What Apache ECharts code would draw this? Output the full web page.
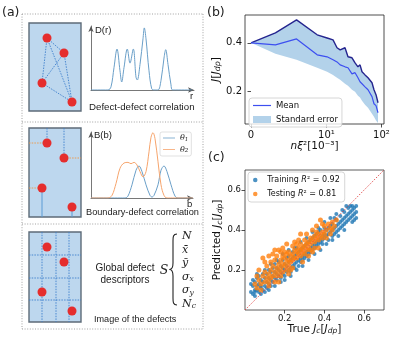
<!DOCTYPE html>
<html>
<head>
<meta charset="utf-8">
<script src="https://cdn.jsdelivr.net/npm/echarts@6/dist/echarts.min.js"></script>
<style>
    html, body {margin: 0; padding: 0; background: #fff;}
    #main {width: 396px; height: 348px;}
</style>
</head>
<body>
<div id="main"></div>
<script>
// (a) sketch curves
var DR_R = [0, 1.7, 2.0, 2.3, 2.6, 2.9, 3.07, 3.3, 3.63, 3.9, 4.23, 4.5, 4.63, 4.9, 5.2, 5.33, 5.5, 5.8, 6.07, 6.3, 6.7, 7.0, 7.3, 7.47, 7.7, 8.0, 8.17, 10.1];
var DR_D = [0, 0, 0.05, 0.35, 0.64, 0.3, 0.125, 0.35, 0.64, 0.42, 0.64, 0.2, 0.156, 0.4, 0.8, 0.97, 0.8, 0.3, 0.02, 0, 0, 0.15, 0.5, 0.63, 0.4, 0.08, 0, 0];
var THETA1_B = [0, 3.4, 3.7, 4.1, 4.5, 4.8, 5.1, 5.5, 5.9, 6.1, 6.3, 6.7, 7.0, 7.3, 7.6, 8.0, 8.4, 8.7, 10.2];
var THETA1_V = [0, 0, 0.03, 0.2, 0.42, 0.485, 0.4, 0.2, 0.04, 0.015, 0.04, 0.2, 0.42, 0.485, 0.4, 0.2, 0.03, 0, 0];
var THETA2_B = [0, 1.7, 2.1, 2.5, 2.9, 3.3, 3.7, 4.0, 4.3, 4.6, 4.9, 5.2, 5.5, 5.8, 6.0, 6.2, 6.4, 6.7, 7.0, 7.3, 7.6, 10.2];
var THETA2_V = [0, 0, 0.04, 0.22, 0.45, 0.53, 0.54, 0.52, 0.54, 0.5, 0.4, 0.32, 0.4, 0.7, 0.92, 0.99, 0.9, 0.55, 0.2, 0.04, 0, 0];

// (b) J vs n xi^2
var B_X = [0, 2.2, 4.1, 6.8, 10.3, 13.2, 15.6, 17.8, 21.8, 24.7, 29.2, 33.2, 37.5, 40.9, 44.4, 50.4, 57.1, 67.5, 73.3, 79.8, 86.8];
var B_UPPER = [0.400, 0.441, 0.494, 0.433, 0.420, 0.412, 0.380, 0.371, 0.380, 0.343, 0.339, 0.318, 0.302, 0.310, 0.282, 0.269, 0.257, 0.237, 0.208, 0.188, 0.155];
var B_MEAN = [0.400, 0.392, 0.416, 0.351, 0.343, 0.331, 0.322, 0.310, 0.302, 0.298, 0.273, 0.278, 0.257, 0.241, 0.249, 0.220, 0.208, 0.180, 0.151, 0.143, 0.114];
var B_LOWER = [0.400, 0.355, 0.331, 0.298, 0.282, 0.269, 0.257, 0.249, 0.233, 0.224, 0.208, 0.200, 0.184, 0.176, 0.163, 0.147, 0.135, 0.110, 0.098, 0.082, 0.072];
var B_XTICKS = [0, 10, 100];
var B_XTICK_LABELS = ['0', '10¹', '10²'];
var B_YTICKS = [0.2, 0.4];

// (c) predicted vs true
var C_TICKS = [0.2, 0.4, 0.6];
var C_DIAG = [0, 0.7];
var C_TRAIN = [
    [0.03,0.09],[0.03,0.13],[0.04,0.08],[0.04,0.12],[0.04,0.15],[0.05,0.10],[0.05,0.14],[0.05,0.09],[0.06,0.12],[0.06,0.16],
    [0.06,0.10],[0.07,0.13],[0.07,0.09],[0.07,0.17],[0.08,0.11],[0.08,0.15],[0.08,0.12],[0.09,0.10],[0.09,0.14],[0.09,0.18],
    [0.10,0.12],[0.10,0.16],[0.10,0.09],[0.11,0.14],[0.11,0.18],[0.11,0.11],[0.12,0.16],[0.12,0.20],[0.12,0.13],[0.13,0.15],
    [0.13,0.19],[0.13,0.12],[0.14,0.17],[0.14,0.21],[0.14,0.14],[0.15,0.16],[0.15,0.19],[0.15,0.23],[0.16,0.15],[0.16,0.18],
    [0.16,0.21],[0.17,0.17],[0.17,0.20],[0.17,0.24],[0.18,0.16],[0.18,0.19],[0.18,0.22],[0.19,0.18],[0.19,0.21],[0.19,0.25],
    [0.20,0.17],[0.20,0.20],[0.20,0.23],[0.21,0.19],[0.21,0.22],[0.21,0.26],[0.22,0.20],[0.22,0.24],[0.22,0.27],[0.23,0.21],
    [0.23,0.25],[0.23,0.19],[0.24,0.22],[0.24,0.26],[0.24,0.29],[0.25,0.23],[0.25,0.27],[0.25,0.21],[0.26,0.24],[0.26,0.28],
    [0.26,0.31],[0.27,0.25],[0.27,0.22],[0.27,0.29],[0.28,0.26],[0.28,0.30],[0.28,0.24],[0.29,0.27],[0.29,0.31],[0.29,0.25],
    [0.30,0.28],[0.30,0.32],[0.30,0.26],[0.31,0.29],[0.31,0.33],[0.31,0.27],[0.32,0.30],[0.32,0.34],[0.32,0.28],[0.33,0.31],
    [0.33,0.35],[0.33,0.29],[0.34,0.32],[0.34,0.36],[0.34,0.30],[0.35,0.33],[0.35,0.37],[0.35,0.31],[0.36,0.34],[0.36,0.38],
    [0.36,0.32],[0.37,0.35],[0.37,0.33],[0.37,0.39],[0.38,0.36],[0.38,0.34],[0.38,0.40],[0.39,0.37],[0.39,0.35],[0.39,0.33],
    [0.40,0.38],[0.40,0.36],[0.40,0.41],[0.41,0.37],[0.41,0.40],[0.42,0.38],[0.42,0.41],[0.42,0.35],[0.43,0.39],[0.43,0.42],
    [0.44,0.40],[0.44,0.37],[0.44,0.43],[0.45,0.41],[0.45,0.38],[0.46,0.42],[0.46,0.39],[0.46,0.45],[0.47,0.43],[0.47,0.40],
    [0.48,0.44],[0.48,0.41],[0.48,0.47],[0.49,0.45],[0.49,0.42],[0.50,0.46],[0.50,0.43],[0.50,0.49],[0.51,0.47],[0.51,0.44],
    [0.52,0.48],[0.52,0.45],[0.52,0.51],[0.53,0.49],[0.53,0.46],[0.54,0.50],[0.54,0.47],[0.54,0.52],[0.55,0.48],[0.55,0.45],
    [0.55,0.51],[0.56,0.49],[0.56,0.52],
    [0.05,0.07],[0.06,0.18],[0.08,0.08],[0.10,0.20],[0.12,0.10],[0.13,0.23],[0.15,0.12],[0.16,0.25],[0.18,0.14],[0.19,0.28],
    [0.20,0.15],[0.22,0.30],[0.23,0.17],[0.25,0.31],[0.26,0.20],[0.28,0.34],[0.29,0.22],[0.31,0.36],[0.32,0.25],[0.34,0.39],
    [0.35,0.28],[0.37,0.41],[0.38,0.30],[0.40,0.44],[0.41,0.33],[0.43,0.46],[0.44,0.35],[0.46,0.48],[0.47,0.37],[0.49,0.50],
    [0.50,0.40],[0.53,0.52],[0.54,0.44],[0.56,0.46],[0.51,0.52],[0.45,0.46]
];
var C_TEST = [
    [0.05,0.13],[0.06,0.11],[0.07,0.15],[0.08,0.13],[0.09,0.17],[0.09,0.26],[0.10,0.14],[0.10,0.19],[0.11,0.16],[0.11,0.22],
    [0.12,0.18],[0.12,0.14],[0.13,0.20],[0.13,0.24],[0.14,0.17],[0.14,0.22],[0.15,0.19],[0.15,0.25],[0.15,0.14],[0.16,0.21],
    [0.16,0.17],[0.16,0.27],[0.17,0.19],[0.17,0.23],[0.17,0.30],[0.18,0.21],[0.18,0.25],[0.18,0.17],[0.19,0.23],[0.19,0.31],
    [0.19,0.19],[0.20,0.22],[0.20,0.26],[0.20,0.29],[0.21,0.24],[0.21,0.20],[0.22,0.25],[0.22,0.29],[0.22,0.22],[0.23,0.27],
    [0.23,0.24],[0.24,0.28],[0.24,0.25],[0.24,0.32],[0.25,0.26],[0.25,0.30],[0.26,0.29],[0.26,0.26],[0.27,0.31],[0.27,0.28],
    [0.28,0.30],[0.28,0.33],[0.28,0.27],[0.29,0.31],[0.29,0.29],[0.30,0.32],[0.30,0.35],[0.31,0.30],[0.31,0.33],[0.32,0.34],
    [0.32,0.31],[0.33,0.36],[0.33,0.33],[0.34,0.35],[0.34,0.40],[0.35,0.34],[0.35,0.37],[0.36,0.36],[0.36,0.39],[0.37,0.38],
    [0.37,0.35],[0.38,0.45],[0.38,0.37],[0.39,0.39],[0.40,0.38],[0.40,0.42],[0.41,0.40],[0.42,0.43],[0.43,0.41],[0.44,0.44],
    [0.45,0.42],[0.46,0.45],[0.06,0.17],[0.08,0.10],[0.12,0.12],[0.14,0.28],[0.21,0.28],[0.23,0.20],[0.26,0.33],[0.30,0.28],
    [0.33,0.30],[0.35,0.31],[0.39,0.36],[0.44,0.40],
    [0.07,0.20],[0.10,0.24],[0.13,0.16],[0.15,0.30],[0.17,0.14],[0.19,0.27],[0.21,0.33],[0.22,0.18],[0.24,0.21],[0.25,0.34],
    [0.27,0.35],[0.29,0.24],[0.31,0.38],[0.32,0.27],[0.34,0.29],[0.36,0.42],[0.37,0.31],[0.39,0.43],[0.41,0.36],[0.43,0.38],
    [0.12,0.27],[0.18,0.29],[0.28,0.38]
];

var LINTHRESH = 5.5, LINSCALE = 1 / (1 - 1 / 10);
function symlog(x) {
    return x <= LINTHRESH ? x / LINTHRESH * LINSCALE : LINSCALE + Math.log10(x / LINTHRESH);
}
function zip(xs, ys) {
    return xs.map(function (x, i) { return [x, ys[i]]; });
}

var TICK_FONT = 'DejaVu Sans';
var SKETCH_FONT = 'Liberation Sans';
var MATH_FONT = 'DejaVu Serif';
var LINE_ICON = 'path://M0,0H30V2H0Z';

// ---- sketch helpers for panel (a) ----
var RECT_X = 29, RECT_W = 52;
var DEFECTS = [[47, 15], [64, 30], [42, 60], [72, 79]];
var BLUE_DOT = '#3d7fcc', ORANGE_DOT = '#f0953f';

function txt(x, y, s, size, opts) {
    opts = opts || {};
    return {
        type: 'text', x: x, y: y, z: 20,
        style: {
            text: s, fill: opts.fill || '#222',
            font: (opts.italic ? 'italic ' : '') + size + 'px "' + (opts.family || SKETCH_FONT) + '"',
            align: opts.align || 'left', verticalAlign: opts.va || 'middle', rich: opts.rich
        }
    };
}
function ln(x1, y1, x2, y2, color, dash, w) {
    return {
        type: 'line', z: 11, shape: {x1: x1, y1: y1, x2: x2, y2: y2},
        style: {stroke: color, lineWidth: w || 0.9, lineDash: dash || null}
    };
}
function curve(x1, y1, c1x, c1y, c2x, c2y, x2, y2) {
    return {
        type: 'bezierCurve', z: 20,
        shape: {x1: x1, y1: y1, cpx1: c1x, cpy1: c1y, cpx2: c2x, cpy2: c2y, x2: x2, y2: y2},
        style: {fill: null, stroke: '#222', lineWidth: 1.1}
    };
}
function box(top, h) {
    return {
        type: 'rect', z: 10, shape: {x: RECT_X, y: top, width: RECT_W, height: h},
        style: {fill: '#bdd7ee', stroke: '#5d6b78', lineWidth: 1.4}
    };
}
function dots(top) {
    return DEFECTS.map(function (d) {
        return {type: 'circle', z: 12, shape: {cx: d[0], cy: top + d[1], r: 4.5}, style: {fill: '#e52d2d'}};
    });
}

var graphics = [];
// dotted frame
var FD = [1, 1.6], FC = '#8a8a8a';
graphics.push(ln(22, 14, 203, 14, FC, FD, 0.8), ln(22, 329, 203, 329, FC, FD, 0.8),
    ln(22, 14, 22, 329, FC, FD, 0.8), ln(203, 14, 203, 329, FC, FD, 0.8),
    ln(22, 122, 203, 122, FC, FD, 0.8), ln(22, 224, 203, 224, FC, FD, 0.8));

// sub-panel 1: defect-defect
var t1 = 23;
graphics.push(box(t1, 88));
for (var i = 0; i < DEFECTS.length; i++) {
    for (var j = i + 1; j < DEFECTS.length; j++) {
        graphics.push(ln(DEFECTS[i][0], t1 + DEFECTS[i][1], DEFECTS[j][0], t1 + DEFECTS[j][1], BLUE_DOT, [1.5, 1.2]));
    }
}
graphics = graphics.concat(dots(t1));
graphics.push(txt(95, 30, 'D(r)', 9.5), txt(190, 96, 'r', 9.5), txt(89, 107, 'Defect-defect correlation', 9.7));

// sub-panel 2: boundary-defect
var t2 = 128, b2 = 217;
graphics.push(box(t2, 89));
graphics.push(ln(47, t2, 47, t2 + DEFECTS[0][1], BLUE_DOT, [1.5, 1.2]),
    ln(64, t2, 64, t2 + DEFECTS[1][1], BLUE_DOT, [1.5, 1.2]),
    ln(42, t2 + DEFECTS[2][1], 42, b2, '#5b9bd5', null, 1),
    ln(72, t2 + DEFECTS[3][1], 72, b2, '#5b9bd5', null, 1),
    ln(RECT_X, t2 + DEFECTS[0][1], 47, t2 + DEFECTS[0][1], ORANGE_DOT, [1.5, 1.2]),
    ln(64, t2 + DEFECTS[1][1], RECT_X + RECT_W, t2 + DEFECTS[1][1], ORANGE_DOT, [1.5, 1.2]),
    ln(RECT_X, t2 + DEFECTS[2][1], 42, t2 + DEFECTS[2][1], ORANGE_DOT, [1.5, 1.2]));
graphics = graphics.concat(dots(t2));
graphics.push(txt(94, 135.5, 'B(b)', 9.5), txt(187, 204, 'b', 9.5), txt(86, 212, 'Boundary-defect correlation', 9.2));

// sub-panel 3: image of the defects
var t3 = 232;
graphics.push(box(t3, 90));
[42, 56, 69].forEach(function (x) { graphics.push(ln(x, t3, x, t3 + 90, BLUE_DOT, [1.5, 1.2])); });
[23, 46, 68].forEach(function (y) { graphics.push(ln(RECT_X, t3 + y, RECT_X + RECT_W, t3 + y, BLUE_DOT, [1.5, 1.2])); });
graphics = graphics.concat(dots(t3));
graphics.push(txt(125, 268, 'Global defect', 10, {align: 'center'}),
    txt(125, 280.5, 'descriptors', 10, {align: 'center'}),
    txt(94, 319, 'Image of the defects', 9.1),
    txt(164, 271, 'S', 12.5, {family: MATH_FONT, italic: true, align: 'center'}));
// curly brace
graphics.push(curve(177, 234, 173, 234, 173, 237, 173, 241), ln(173, 241, 173, 263, '#222', null, 1.1),
    curve(173, 263, 173, 267, 172, 269.5, 169.5, 269.5), curve(169.5, 269.5, 172, 269.5, 173, 272, 173, 276),
    ln(173, 276, 173, 298, '#222', null, 1.1), curve(173, 298, 173, 302, 173, 305, 177, 305));
var mathRich = {
    s: {fontSize: 7.5, fontFamily: MATH_FONT, fontStyle: 'italic', verticalAlign: 'bottom', padding: [5, 0, 0, 0]}
};
var DESCRIPTORS = ['N', 'x\u0304', 'y\u0304', 'σ{s|x}', 'σ{s|y}', 'N{s|c}'];
DESCRIPTORS.forEach(function (d, k) {
    graphics.push(txt(182, 236.5 + k * 13.5, d, 11, {family: MATH_FONT, italic: true, rich: mathRich}));
});

// panel labels
graphics.push(txt(2, 13, '(a)', 12.5, {family: TICK_FONT}),
    txt(207, 12.5, '(b)', 12.5, {family: TICK_FONT}),
    txt(208, 158, '(c)', 12.5, {family: TICK_FONT}));

// ---- axes ----
function sketchAxis(idx, max) {
    return {
        type: 'value', gridIndex: idx, min: 0, max: max,
        axisLine: {show: true, symbol: ['none', 'arrow'], symbolSize: [4, 6], lineStyle: {color: '#555', width: 0.8}},
        axisTick: {show: false}, axisLabel: {show: false}, splitLine: {show: false}
    };
}
var tickStyle = {show: true, inside: false, length: 3.5, lineStyle: {color: '#222', width: 0.8}};
function subRich(size) {
    return {
        i: {fontStyle: 'italic', fontSize: size},
        s: {fontSize: size * 0.72, fontStyle: 'italic', verticalAlign: 'bottom', padding: [size * 0.35, 0, 0, 0]}
    };
}
var bandData = B_X.map(function (x, k) { return [symlog(x), B_LOWER[k], B_UPPER[k]]; });

var option = {
    backgroundColor: '#fff',
    animation: false,
    graphic: graphics,
    grid: [
        {left: 91, top: 26, width: 103, height: 64},
        {left: 91, top: 132, width: 102, height: 66},
        {left: 245, top: 15, width: 139, height: 109, show: true, borderColor: '#222', borderWidth: 0.8},
        {left: 245, top: 170, width: 139, height: 140, show: true, borderColor: '#333', borderWidth: 0.8}
    ],
    xAxis: [
        sketchAxis(0, 10.3),
        sketchAxis(1, 10.2),
        {
            type: 'value', gridIndex: 2, min: (245 - 251) / 55, max: (384 - 251) / 55,
            axisLine: {show: false}, splitLine: {show: false},
            axisTick: Object.assign({customValues: B_XTICKS.map(symlog)}, tickStyle),
            axisLabel: {
                customValues: B_XTICKS.map(symlog), margin: 6,
                fontFamily: TICK_FONT, fontSize: 10, color: '#111',
                formatter: function (v) {
                    for (var k = 0; k < B_XTICKS.length; k++) {
                        if (Math.abs(symlog(B_XTICKS[k]) - v) < 1e-6) return B_XTICK_LABELS[k];
                    }
                    return '';
                }
            },
            name: '{i|n}{i|ξ}²[10⁻³]', nameLocation: 'middle', nameGap: 17,
            nameTextStyle: {fontFamily: TICK_FONT, fontSize: 10.5, color: '#111', rich: subRich(10.5)}
        },
        {
            type: 'value', gridIndex: 3, min: 0, max: 0.7,
            axisLine: {show: false}, splitLine: {show: false},
            axisTick: Object.assign({customValues: C_TICKS}, tickStyle),
            axisLabel: {customValues: C_TICKS, margin: 4, fontFamily: TICK_FONT, fontSize: 8.5, color: '#111',
                formatter: function (v) { return v.toFixed(1); }},
            name: 'True {i|J}{s|c}[{i|J}{s|dp}]', nameLocation: 'middle', nameGap: 13,
            nameTextStyle: {fontFamily: TICK_FONT, fontSize: 10.5, color: '#111', rich: subRich(10.5)}
        }
    ],
    yAxis: [
        sketchAxis(0, 1),
        sketchAxis(1, 1),
        {
            type: 'value', gridIndex: 2, min: 0.068, max: 0.514,
            axisLine: {show: false}, splitLine: {show: false},
            axisTick: Object.assign({customValues: B_YTICKS}, tickStyle),
            axisLabel: {customValues: B_YTICKS, margin: 3, fontFamily: TICK_FONT, fontSize: 10, color: '#111',
                formatter: function (v) { return v.toFixed(1); }},
            name: '{i|J}[{i|J}{s|dp}]', nameLocation: 'middle', nameGap: 19,
            nameTextStyle: {fontFamily: TICK_FONT, fontSize: 11, color: '#111', rich: subRich(11)}
        },
        {
            type: 'value', gridIndex: 3, min: 0, max: 0.7,
            axisLine: {show: false}, splitLine: {show: false},
            axisTick: Object.assign({customValues: C_TICKS}, tickStyle),
            axisLabel: {customValues: C_TICKS, margin: 4, fontFamily: TICK_FONT, fontSize: 8.5, color: '#111',
                formatter: function (v) { return v.toFixed(1); }},
            name: 'Predicted {i|J}{s|c}[{i|J}{s|dp}]', nameLocation: 'middle', nameGap: 19,
            nameTextStyle: {fontFamily: TICK_FONT, fontSize: 10.5, color: '#111', rich: subRich(10.5)}
        }
    ],
    legend: [
        {
            data: [{name: 'θ1', icon: LINE_ICON}, {name: 'θ2', icon: LINE_ICON}], left: 160, top: 132, orient: 'vertical',
            itemWidth: 12, itemHeight: 6, itemGap: 3, padding: [2, 3],
            borderColor: '#ccc', borderWidth: 0.6, borderRadius: 2,
            formatter: function (n) { return '{t|θ}{s|' + n.slice(1) + '}'; },
            textStyle: {fontSize: 8, color: '#222', rich: {
                t: {fontFamily: MATH_FONT, fontStyle: 'italic', fontSize: 8},
                s: {fontFamily: MATH_FONT, fontStyle: 'italic', fontSize: 5.5, verticalAlign: 'bottom', padding: [3, 0, 0, 0]}
            }}
        },
        {
            data: [{name: 'Mean', icon: LINE_ICON}, {name: 'Standard error', icon: 'rect'}],
            left: 249, top: 98, orient: 'vertical',
            itemWidth: 18, itemHeight: 7, itemGap: 5, padding: [3, 4],
            borderColor: '#ccc', borderWidth: 0.8, borderRadius: 3, backgroundColor: 'rgba(255,255,255,0.8)',
            textStyle: {fontFamily: TICK_FONT, fontSize: 8.5, color: '#111'}
        },
        {
            data: ['Training', 'Testing'], left: 248, top: 172, orient: 'vertical', icon: 'circle',
            itemWidth: 14, itemHeight: 4.5, itemGap: 6, padding: [4, 5],
            borderColor: '#ccc', borderWidth: 0.8, borderRadius: 3, backgroundColor: 'rgba(255,255,255,0.8)',
            formatter: function (n) { return n + ' {i|R}² = ' + (n === 'Training' ? '0.92' : '0.81'); },
            textStyle: {fontFamily: TICK_FONT, fontSize: 8, color: '#111', rich: {i: {fontStyle: 'italic', fontSize: 8}}}
        }
    ],
    series: [
        {type: 'line', name: 'D(r)', xAxisIndex: 0, yAxisIndex: 0, data: zip(DR_R, DR_D), smooth: 0.35,
            symbol: 'none', lineStyle: {color: '#6a9fc8', width: 1}, silent: true},
        {type: 'line', name: 'θ1', xAxisIndex: 1, yAxisIndex: 1, data: zip(THETA1_B, THETA1_V), smooth: 0.35,
            symbol: 'none', color: '#6a9fc8', lineStyle: {width: 1}},
        {type: 'line', name: 'θ2', xAxisIndex: 1, yAxisIndex: 1, data: zip(THETA2_B, THETA2_V), smooth: 0.35,
            symbol: 'none', color: '#f6a46c', lineStyle: {width: 1}},
        {
            type: 'custom', name: 'Standard error', xAxisIndex: 2, yAxisIndex: 2, data: bandData,
            encode: {x: 0, y: [1, 2]}, itemStyle: {color: '#b3d2ea'}, silent: true,
            renderItem: function (params, api) {
                if (params.dataIndex !== 0) return null;
                var top = bandData.map(function (d) { return api.coord([d[0], d[2]]); });
                var bottom = bandData.slice().reverse().map(function (d) { return api.coord([d[0], d[1]]); });
                return {type: 'polygon', shape: {points: top.concat(bottom)}, style: {fill: '#b3d2ea'}};
            }
        },
        {type: 'line', name: 'upper', xAxisIndex: 2, yAxisIndex: 2, data: zip(B_X.map(symlog), B_UPPER),
            symbol: 'none', lineStyle: {color: '#25258f', width: 1.4}},
        {type: 'line', name: 'Mean', xAxisIndex: 2, yAxisIndex: 2, data: zip(B_X.map(symlog), B_MEAN),
            symbol: 'none', color: '#3d4ff0', lineStyle: {width: 1.2}},
        {type: 'scatter', name: 'Training', xAxisIndex: 3, yAxisIndex: 3, data: C_TRAIN,
            symbolSize: 4, itemStyle: {color: '#1f77b4'}},
        {type: 'scatter', name: 'Testing', xAxisIndex: 3, yAxisIndex: 3, data: C_TEST,
            symbolSize: 5, itemStyle: {color: '#ff7f0e'}},
        {type: 'line', name: 'ideal', xAxisIndex: 3, yAxisIndex: 3, data: zip(C_DIAG, C_DIAG), z: 5,
            symbol: 'none', lineStyle: {color: '#e04848', width: 0.9, type: [1.5, 1.5]}, silent: true}
    ]
};

var chart = echarts.init(document.getElementById('main'));
chart.setOption(option);
</script>
</body>
</html>
